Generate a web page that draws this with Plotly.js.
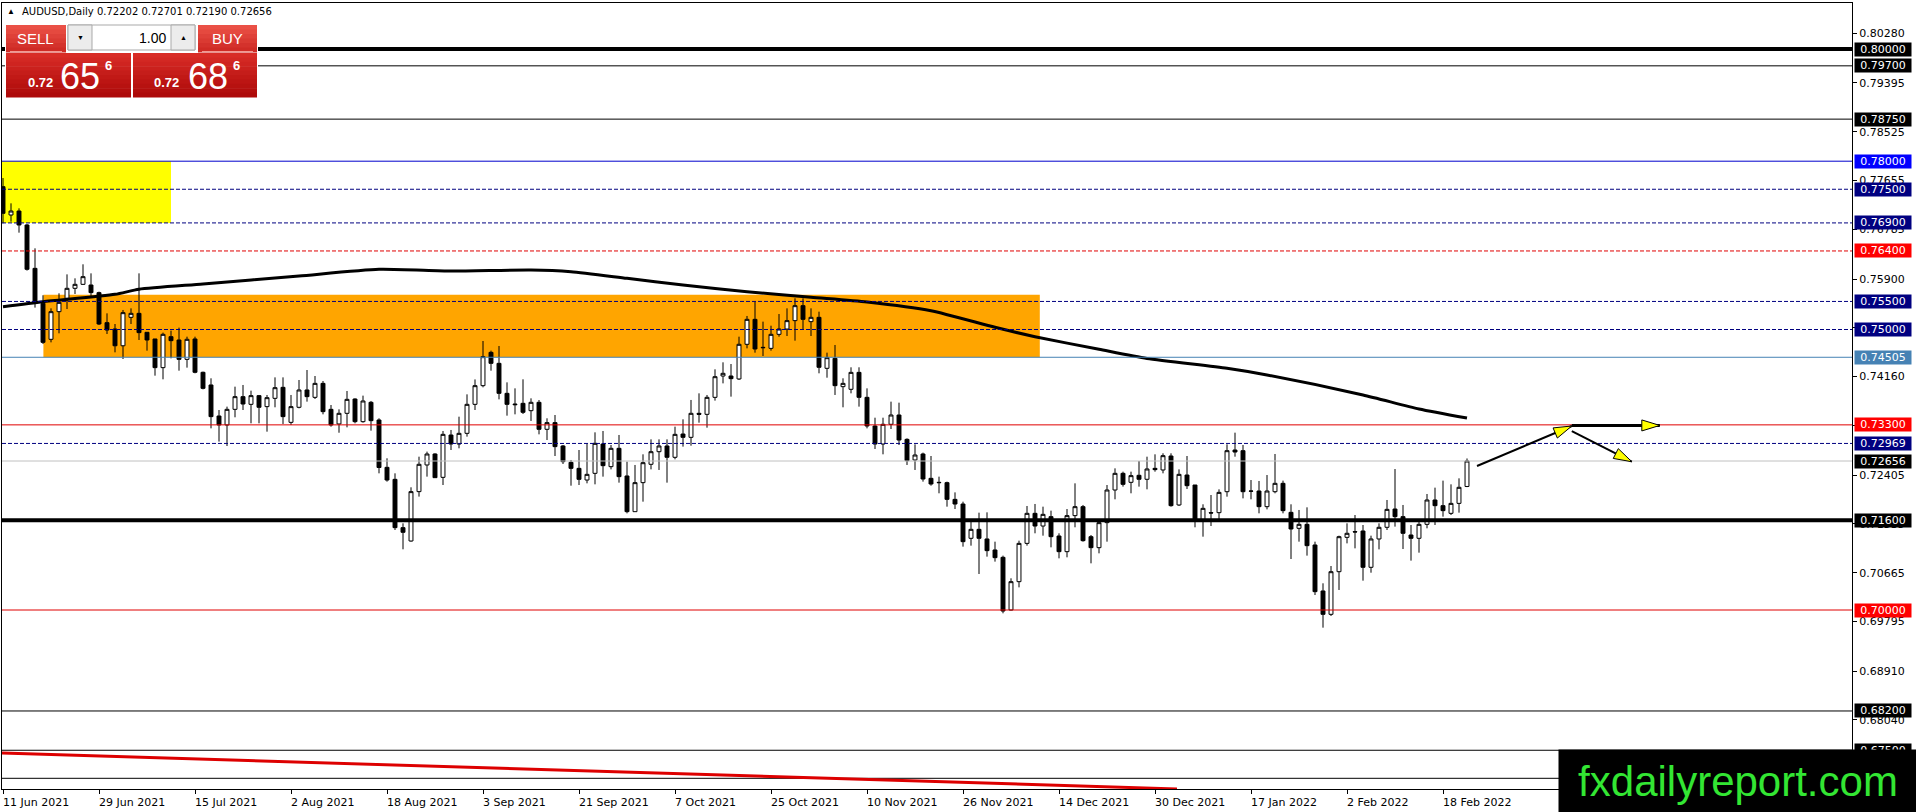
<!DOCTYPE html>
<html><head><meta charset="utf-8">
<script src="https://cdn.plot.ly/plotly-3.0.1.min.js"></script>
<style>html,body{margin:0;padding:0;background:#fff;overflow:hidden}#chart{width:1916px;height:812px}</style>
</head><body><div id="chart"></div>
<script>
// ---------------- DATA ----------------
const openP = [0.77546,0.77041,0.77112,0.76863,0.7609,0.75467,0.74825,0.75318,0.75556,0.75734,
0.75805,0.75793,0.75657,0.75122,0.75009,0.7471,0.75217,0.75288,0.7495,0.74831,
0.7432,0.74872,0.74813,0.74468,0.74831,0.74237,0.74011,0.73458,0.73298,0.73577,
0.73803,0.73666,0.73821,0.73625,0.73773,0.73969,0.73345,0.73613,0.73922,0.73791,
0.7404,0.73577,0.73316,0.73506,0.73761,0.73357,0.73702,0.73387,0.72543,0.72329,
0.71468,0.7123,0.7211,0.72585,0.72781,0.72365,0.73119,0.72959,0.73149,0.73666,
0.73999,0.74593,0.74397,0.73862,0.73672,0.73684,0.73553,0.73702,0.73221,0.7334,
0.72924,0.72632,0.72525,0.72317,0.72436,0.72959,0.72555,0.72882,0.72389,0.71753,
0.7227,0.72597,0.72822,0.72924,0.72722,0.73137,0.73078,0.73506,0.73488,0.73791,
0.74171,0.74171,0.74118,0.74736,0.75181,0.74682,0.74664,0.74914,0.75009,0.75158,
0.75425,0.7514,0.75217,0.74308,0.74486,0.73981,0.73934,0.74236,0.73791,0.7328,
0.72959,0.7331,0.73476,0.73042,0.72674,0.72781,0.72347,0.72276,0.7227,0.71972,
0.71889,0.71278,0.71438,0.71266,0.7107,0.70939,0.7,0.70505,0.71188,0.71723,
0.71497,0.71664,0.71319,0.7104,0.71682,0.71842,0.71307,0.71111,0.71557,0.72139,
0.72436,0.72276,0.72401,0.7233,0.72525,0.72496,0.72745,0.71872,0.72406,0.72228,
0.71604,0.71735,0.71735,0.72109,0.72852,0.7284,0.72121,0.72121,0.71842,0.72109,
0.72258,0.71741,0.71456,0.71527,0.71159,0.70339,0.69923,0.70683,0.71295,0.71397,
0.71408,0.70761,0.71266,0.71474,0.718,0.71664,0.71337,0.71278,0.71527,0.71961,
0.7186,0.71723,0.71901,0.72202];
const highP = [0.777,0.77249,0.7716,0.7688,0.76447,0.7561,0.75377,0.75645,0.75983,0.75912,
0.76162,0.76001,0.75675,0.75288,0.75098,0.75348,0.75377,0.76001,0.7495,0.74831,
0.74944,0.7498,0.75033,0.74872,0.74872,0.74249,0.7413,0.73565,0.73625,0.73981,
0.74011,0.7391,0.73833,0.73833,0.74147,0.74147,0.73833,0.741,0.74278,0.74171,
0.74082,0.73654,0.73577,0.73904,0.73773,0.73821,0.73726,0.73417,0.72704,0.72436,
0.71545,0.72187,0.72733,0.72823,0.72793,0.73191,0.73209,0.73446,0.73844,0.7411,
0.74795,0.74623,0.74706,0.74058,0.73951,0.74112,0.73773,0.73743,0.73417,0.73476,
0.72941,0.72674,0.72852,0.72971,0.73167,0.73191,0.72941,0.7312,0.72644,0.72585,
0.72775,0.73042,0.73042,0.73042,0.73268,0.73399,0.73744,0.73862,0.73833,0.7429,
0.74415,0.74385,0.74872,0.75241,0.75496,0.7514,0.75068,0.75276,0.75377,0.75556,
0.75556,0.75377,0.75318,0.74587,0.74724,0.7413,0.74326,0.74326,0.73951,0.73428,
0.73428,0.73714,0.73696,0.7306,0.72953,0.72805,0.72745,0.72377,0.72288,0.72097,
0.71931,0.71604,0.71735,0.71741,0.71218,0.70969,0.70565,0.71236,0.71854,0.7189,
0.71842,0.71771,0.71367,0.718,0.72258,0.71872,0.71337,0.71586,0.72228,0.72525,
0.72466,0.72466,0.72656,0.72733,0.72775,0.72793,0.72793,0.72507,0.72745,0.72228,
0.71884,0.7205,0.72151,0.72953,0.73161,0.72941,0.72317,0.723,0.72406,0.72781,
0.72306,0.71884,0.71783,0.7183,0.71218,0.70476,0.70784,0.71325,0.71545,0.71693,
0.71515,0.71325,0.71545,0.71961,0.72513,0.71872,0.71515,0.71574,0.72068,0.72181,
0.72306,0.7224,0.72347,0.72701];
const lowP = [0.76893,0.76922,0.76726,0.7605,0.7539,0.74742,0.74771,0.74932,0.75365,0.75633,
0.75793,0.75586,0.7508,0.7492,0.74593,0.74474,0.75098,0.74813,0.74623,0.74177,
0.74112,0.74486,0.74266,0.7432,0.74219,0.73933,0.73238,0.73002,0.72923,0.73435,
0.73565,0.73328,0.73328,0.73179,0.73613,0.73316,0.73298,0.73595,0.73714,0.73761,
0.73488,0.73268,0.7316,0.73256,0.73328,0.73339,0.73197,0.72436,0.72288,0.71426,
0.71082,0.71218,0.72021,0.72377,0.72359,0.72228,0.72852,0.72882,0.7309,0.73565,
0.73969,0.74266,0.73755,0.73464,0.73488,0.73494,0.7337,0.73131,0.7303,0.72745,
0.72603,0.72216,0.72228,0.72258,0.7224,0.72377,0.72507,0.7227,0.71723,0.71753,
0.71931,0.72507,0.72496,0.7227,0.72686,0.72912,0.72929,0.73339,0.7325,0.73732,
0.7404,0.73803,0.741,0.74664,0.74587,0.74528,0.74623,0.74872,0.74884,0.74801,
0.74999,0.74884,0.74219,0.74141,0.73833,0.73613,0.73862,0.73625,0.73238,0.7287,
0.72775,0.73226,0.72941,0.72585,0.72496,0.72288,0.72216,0.7208,0.71842,0.718,
0.71129,0.71147,0.70642,0.70951,0.70862,0.69941,0.6999,0.70404,0.71147,0.71367,
0.71325,0.71117,0.70921,0.70939,0.71474,0.71218,0.70832,0.7101,0.71218,0.71973,
0.72199,0.7208,0.72199,0.72151,0.72466,0.72436,0.71842,0.71854,0.72157,0.71474,
0.71307,0.71497,0.71616,0.7202,0.72733,0.7199,0.71973,0.71723,0.71794,0.7208,
0.71723,0.70909,0.71218,0.70969,0.70267,0.69685,0.69893,0.70357,0.71188,0.71099,
0.70523,0.70665,0.71081,0.71426,0.71486,0.71087,0.7088,0.71022,0.71456,0.71515,
0.71664,0.71693,0.71735,0.7219];
const closeP = [0.77071,0.77112,0.76863,0.76073,0.75467,0.74771,0.75318,0.75484,0.75734,0.75805,
0.75942,0.75657,0.75098,0.74991,0.7471,0.753,0.75288,0.74944,0.74813,0.7432,
0.74914,0.74801,0.74468,0.74825,0.74237,0.73951,0.73447,0.73298,0.73577,0.73803,
0.73672,0.73821,0.73613,0.73785,0.73963,0.73447,0.73625,0.73922,0.73803,0.7404,
0.73536,0.73298,0.73506,0.73755,0.73357,0.73726,0.73375,0.7254,0.72317,0.71468,
0.71385,0.7211,0.72597,0.72781,0.72359,0.73131,0.72959,0.73149,0.73666,0.73999,
0.74516,0.74397,0.73862,0.73666,0.7366,0.73524,0.73702,0.73221,0.7334,0.72912,
0.72644,0.72525,0.72329,0.72418,0.72971,0.72573,0.72882,0.72377,0.71753,0.7227,
0.72626,0.72822,0.72924,0.72722,0.73131,0.73078,0.73506,0.73488,0.73791,0.74159,
0.74219,0.74124,0.74736,0.75181,0.74653,0.74676,0.74914,0.75009,0.75158,0.75425,
0.75181,0.75217,0.74326,0.74498,0.73999,0.7404,0.74236,0.73791,0.7328,0.72959,
0.7331,0.73476,0.7303,0.72662,0.72763,0.72335,0.72246,0.7227,0.71972,0.71889,
0.71218,0.71438,0.71278,0.71058,0.70933,0.69982,0.70505,0.71188,0.71723,0.71497,
0.71705,0.71307,0.7104,0.71682,0.71842,0.71236,0.71111,0.71557,0.72139,0.72436,
0.7224,0.72395,0.7233,0.72514,0.72502,0.72751,0.7186,0.72418,0.72216,0.71592,
0.71812,0.71729,0.72097,0.7284,0.72816,0.72109,0.72118,0.71842,0.72121,0.72258,
0.71771,0.71444,0.71527,0.71147,0.70327,0.69923,0.70683,0.71307,0.71367,0.71391,
0.70761,0.71266,0.71474,0.71794,0.71664,0.71367,0.71278,0.71527,0.71961,0.7186,
0.71771,0.71901,0.72187,0.72656];

const dateTickIdx = [0,12,24,36,48,60,72,84,96,108,120,132,144,156,168,180];
const dateTickText = ["11 Jun 2021","29 Jun 2021","15 Jul 2021","2 Aug 2021","18 Aug 2021","3 Sep 2021",
"21 Sep 2021","7 Oct 2021","25 Oct 2021","10 Nov 2021","26 Nov 2021","14 Dec 2021","30 Dec 2021",
"17 Jan 2022","2 Feb 2022","18 Feb 2022"];

const maIdx = [0,5,14,17,25,37,47,56,66,71,78,85,93,101,108,116,124,129,137,143,153,158,170,177,183];
const maVal = [0.75407,0.75496,0.75627,0.75717,0.75811,0.75954,0.76073,0.76043,0.76061,0.7603,
0.75912,0.75793,0.75674,0.75574,0.7549,0.75335,0.75039,0.74872,0.74647,0.74483,
0.74308,0.74189,0.73833,0.73583,0.73422];

const priceTicks = [0.80280,0.79395,0.78525,0.77655,0.76785,0.75900,0.75030,0.74160,0.73290,
0.72405,0.71535,0.70665,0.69795,0.68910,0.68040,0.67170];

const levelVals = [0.80000,0.79700,0.78750,0.78000,0.77500,0.76900,0.76400,0.75500,0.75000,
0.74505,0.73300,0.72969,0.72656,0.71600,0.70000,0.68200,0.67500,0.67000];
const labelVals = [0.80000,0.79700,0.78750,0.78000,0.77500,0.76900,0.76400,0.75500,0.75000,
0.74505,0.73300,0.72969,0.72656,0.71600,0.70000,0.68200,0.67500];

const yellowX = [-0.125, 21.0], yellowY = [0.7690, 0.7800];
const orangeX = [5.05, 129.6], orangeY = [0.74505, 0.7562];
const trendX = [-0.125, 146.75], trendY = [0.6745, 0.6681];
const arrowFromX = [184.25, 196.1, 196.1], arrowFromY = [0.72567, 0.7329, 0.7319];
const arrowToX   = [196.1, 207.1, 203.6],  arrowToY   = [0.7328, 0.7329, 0.72643];

const symbolText = "AUDUSD,Daily 0.72202 0.72701 0.72190 0.72656";
const sellBig = ["0.72","65","6"], buyBig = ["0.72","68","6"], lotText = "1.00";
const watermark = "fxdailyreport.com";

// ---------------- STYLES ----------------
const NAVY='#000080', RED='#ff0000', BLK='#000000';
const levelStyle = [
 {c:BLK,w:4,d:'solid'},{c:BLK,w:1,d:'solid'},{c:BLK,w:1,d:'solid'},{c:'#0000cc',w:1,d:'solid'},
 {c:NAVY,w:1,d:'4px,2px'},{c:NAVY,w:1,d:'4px,2px'},{c:'#e00000',w:1,d:'4px,2px'},{c:NAVY,w:1,d:'4px,2px'},
 {c:NAVY,w:1,d:'4px,2px'},{c:'#4682b4',w:1,d:'solid'},{c:'#e00000',w:1,d:'solid'},{c:NAVY,w:1,d:'4px,2px'},
 {c:'#c0c0c0',w:1,d:'solid'},{c:BLK,w:4,d:'solid'},{c:'#e00000',w:1,d:'solid'},{c:BLK,w:1,d:'solid'},
 {c:BLK,w:1,d:'solid'},{c:BLK,w:1,d:'solid'}];
const labelBg = [BLK,BLK,BLK,'#0000ff',NAVY,NAVY,RED,NAVY,NAVY,'#4682b4',RED,NAVY,BLK,BLK,RED,BLK,BLK];

// ---------------- GEOMETRY ----------------
const PL=2, PR=1852, PT=3, PB=789;
const xr=[-0.125, 231.125];
const yr=[0.668093, 0.808200];
const pxPerX=(PR-PL)/(xr[1]-xr[0]), pxPerY=(PB-PT)/(yr[1]-yr[0]);
const fx = px => (px-PL)/(PR-PL);
const fy = py => (PB-py)/(PB-PT);

const shapes=[], ann=[];
// zones
shapes.push({type:'rect',xref:'x',yref:'y',x0:yellowX[0],x1:yellowX[1],y0:yellowY[0],y1:yellowY[1],fillcolor:'#ffff00',line:{width:0},layer:'below'});
shapes.push({type:'rect',xref:'x',yref:'y',x0:orangeX[0],x1:orangeX[1],y0:orangeY[0],y1:orangeY[1],fillcolor:'#ffa500',line:{width:0},layer:'below'});
// levels
levelVals.forEach((v,i)=>{
  const s=levelStyle[i];
  shapes.push({type:'line',xref:'paper',yref:'y',x0:0,x1:1,y0:v,y1:v,line:{color:s.c,width:s.w,dash:s.d},layer:'above'});
});
// trend line
shapes.push({type:'line',xref:'x',yref:'y',x0:trendX[0],x1:trendX[1],y0:trendY[0],y1:trendY[1],line:{color:'#dd0000',width:3},layer:'above'});
// arrows
const arrowW=[2,3,2];
arrowFromX.forEach((x0,i)=>{
  const x1=arrowToX[i], y0=arrowFromY[i], y1=arrowToY[i];
  shapes.push({type:'line',xref:'x',yref:'y',x0:x0,y0:y0,x1:x1,y1:y1,line:{color:'#000',width:arrowW[i]},layer:'above'});
  const dx=(x1-x0)*pxPerX, dy=(y1-y0)*pxPerY, n=Math.hypot(dx,dy), ux=dx/n, uy=dy/n;
  const L=18, Wd=5.5;
  const bx=-L*ux, by=-L*uy, qx=-uy*Wd, qy=ux*Wd;
  shapes.push({type:'path',xref:'x',yref:'y',xsizemode:'pixel',ysizemode:'pixel',xanchor:x1,yanchor:y1,
    path:`M 0 0 L ${(bx+qx).toFixed(2)} ${(by+qy).toFixed(2)} L ${(bx-qx).toFixed(2)} ${(by-qy).toFixed(2)} Z`,
    fillcolor:'#ffff00',line:{color:'#000',width:1},layer:'above'});
});

// panel (pixel geometry)
function rectPx(x0,y0,x1,y1,fill,lc,lw){
  shapes.push({type:'rect',xref:'paper',yref:'paper',x0:fx(x0),x1:fx(x1),y0:fy(y1),y1:fy(y0),
    fillcolor:fill,line:{color:lc||fill,width:lw===undefined?0:lw},layer:'above'});
}
function grad(x0,y0,x1,y1,c0,c1,n){
  const p=s=>[parseInt(s.substr(1,2),16),parseInt(s.substr(3,2),16),parseInt(s.substr(5,2),16)];
  const a=p(c0), b=p(c1);
  for(let k=0;k<n;k++){
    const t=n===1?0:k/(n-1);
    const c='rgb('+a.map((v,j)=>Math.round(v+(b[j]-v)*t)).join(',')+')';
    rectPx(x0, y0+(y1-y0)*k/n, x1, y0+(y1-y0)*(k+1)/n+0.5, c);
  }
}
rectPx(5,24,258,98,'#ffffff');
grad(6,25,66,52,'#ea5046','#cf2b25',6);
grad(198,25,257,52,'#ea5046','#cf2b25',6);
rectPx(10,51,62,52,'#f39a92');
rectPx(202,51,253,52,'#f39a92');
grad(6,53,131,97,'#d82c26','#ae0a0a',10);
grad(133,53,257,97,'#d82c26','#ae0a0a',10);
rectPx(68,25,195,50,'#ffffff','#a9a9a9',1);
rectPx(68,25,92,50,'#ececec','#a9a9a9',1);
rectPx(171,25,195,50,'#ececec','#a9a9a9',1);
// watermark box drawn as annotation (below)

function txt(px,py,t,size,color,opts){
  opts=opts||{};
  ann.push(Object.assign({xref:'paper',yref:'paper',x:fx(px),y:fy(py),text:t,showarrow:false,
    xanchor:opts.xa||'center',yanchor:'middle',borderpad:0,
    font:{family:opts.fam||'Liberation Sans, Arial, sans-serif',size:size,color:color,weight:opts.w||'normal'}},opts.extra||{}));
}
// header
txt(6,12,'▲',8,'#000',{xa:'left'});
txt(21,12,symbolText,10,'#000',{xa:'left',fam:'DejaVu Sans, sans-serif'});
// buttons
txt(35,39,'SELL',15,'#fff');
txt(227,39,'BUY',15,'#fff');
txt(167,38,lotText,14,'#000',{xa:'right'});
txt(80,38,'▼',7,'#000');
txt(183,37,'▲',7,'#000');
txt(40,82,sellBig[0],13,'#fff',{w:'bold'});
txt(80,76,sellBig[1],36,'#fff');
txt(108,66,sellBig[2],13,'#fff',{w:'bold'});
txt(166,82,buyBig[0],13,'#fff',{w:'bold'});
txt(208,76,buyBig[1],36,'#fff');
txt(236,66,buyBig[2],13,'#fff',{w:'bold'});

// date labels
dateTickIdx.forEach((v,i)=>{
  ann.push({xref:'x',yref:'paper',x:v,y:0,xanchor:'left',yanchor:'top',yshift:-6,xshift:-1,text:dateTickText[i],
    showarrow:false,borderpad:0,font:{family:'DejaVu Sans, sans-serif',size:11,color:'#000'}});
});
// price level labels
labelVals.forEach((v,i)=>{
  ann.push({xref:'paper',yref:'y',x:1,y:v,xanchor:'left',yanchor:'middle',xshift:2,text:v.toFixed(5),
    showarrow:false,bgcolor:labelBg[i],borderpad:0,width:56,height:13,align:'center',valign:'middle',
    font:{family:'DejaVu Sans, sans-serif',size:11,color:'#fff'}});
});
// watermark
ann.push({xref:'paper',yref:'paper',x:fx(1558),y:fy(749),xanchor:'left',yanchor:'top',text:watermark,
  showarrow:false,bgcolor:'#000',borderpad:0,width:358,height:63,align:'center',valign:'middle',
  font:{family:'Liberation Sans, Arial, sans-serif',size:42,color:'#33e633'}});

const xIdx = openP.map((_,i)=>i);
const traces = [
 {type:'candlestick',x:xIdx,open:openP,high:highP,low:lowP,close:closeP,
  increasing:{line:{color:'#000',width:1},fillcolor:'#ffffff'},
  decreasing:{line:{color:'#000',width:1},fillcolor:'#000000'},
  whiskerwidth:0,hoverinfo:'skip',showlegend:false},
 {type:'scatter',mode:'lines',x:maIdx,y:maVal,line:{color:'#000',width:3,shape:'spline',smoothing:0.6},hoverinfo:'skip',showlegend:false}
];

const layout = {
  width:1916,height:812,margin:{l:PL,r:1916-PR,t:PT,b:812-PB,pad:0},
  paper_bgcolor:'#fff',plot_bgcolor:'#fff',showlegend:false,
  xaxis:{range:xr,showgrid:false,zeroline:false,showline:true,mirror:true,linecolor:'#000',linewidth:1,
    ticks:'outside',ticklen:4,tickcolor:'#000',tickvals:dateTickIdx,showticklabels:false,
    rangeslider:{visible:false},fixedrange:true},
  yaxis:{range:yr,side:'right',showgrid:false,zeroline:false,showline:true,mirror:true,linecolor:'#000',linewidth:1,
    ticks:'outside',ticklen:4,tickcolor:'#000',tickvals:priceTicks,ticktext:priceTicks.map(v=>v.toFixed(5)),
    tickfont:{family:'DejaVu Sans, sans-serif',size:11,color:'#000'},fixedrange:true},
  shapes:shapes,annotations:ann
};
Plotly.newPlot('chart',traces,layout,{displayModeBar:false,staticPlot:true});
</script></body></html>
